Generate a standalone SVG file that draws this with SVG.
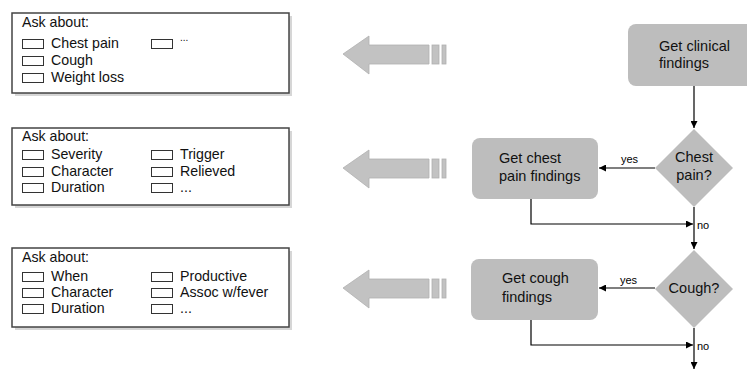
<svg xmlns="http://www.w3.org/2000/svg" width="747" height="372" viewBox="0 0 747 372">
  <defs>
    <marker id="ah" viewBox="0 0 8 8" refX="8" refY="4" markerWidth="7" markerHeight="7" markerUnits="userSpaceOnUse" orient="auto">
      <path d="M0,0 L8,4 L0,8 Z" fill="#000"/>
    </marker>
    <!-- wide block arrow pointing left, with two tail bars -->
    <g id="bigArrow">
      <path d="M0,0 L26,-18 L26,-9 L86,-9 L86,10 L26,10 L26,20 Z" class="barrow"/>
      <rect x="89" y="-9" width="7" height="19" class="barrow"/>
      <rect x="99" y="-9" width="4" height="19" class="barrow"/>
    </g>
  </defs>
  <style>
    text { font-family: "Liberation Sans", Arial, sans-serif; fill: #111; }
    .panel { fill: #fff; stroke: #444; stroke-width: 1.5; }
    .shadow { fill: #d6d6d6; }
    .cb { fill: #fff; stroke: #333; stroke-width: 1; }
    .lbl { font-size: 14.2px; }
    .dots { font-size: 10px; }
    .node { fill: #bdbdbd; }
    .ntxt { font-size: 14.5px; }
    .edge { fill: none; stroke: #000; stroke-width: 1.2; marker-end: url(#ah); }
    .etxt { font-size: 11px; fill: #000; }
    .barrow { fill: #c2c2c2; stroke: #b0b0b0; stroke-width: 0.8; }
  </style>
  <rect width="747" height="372" fill="#fff"/>

  <!-- checklist panels -->
  <g id="panel-general">
    <rect x="15" y="16" width="277" height="80" class="shadow"/>
    <rect x="12" y="13" width="277" height="80" class="panel"/>
    <text x="22" y="27" class="lbl">Ask about:</text>
    <rect x="22.5" y="39.5" width="21" height="9" class="cb"/>
    <text x="51" y="48" class="lbl">Chest pain</text>
    <rect x="22.5" y="56.5" width="21" height="9" class="cb"/>
    <text x="51" y="65" class="lbl">Cough</text>
    <rect x="22.5" y="73.5" width="21" height="9" class="cb"/>
    <text x="51" y="82" class="lbl">Weight loss</text>
    <rect x="151.5" y="39.5" width="21" height="9" class="cb"/>
    <text x="180" y="41" class="dots">...</text>
  </g>

  <g id="panel-chest">
    <rect x="15" y="131" width="277" height="77" class="shadow"/>
    <rect x="12" y="128" width="277" height="77" class="panel"/>
    <text x="22" y="141" class="lbl">Ask about:</text>
    <rect x="22.5" y="150.5" width="21" height="9" class="cb"/>
    <text x="51" y="159" class="lbl">Severity</text>
    <rect x="22.5" y="167.5" width="21" height="9" class="cb"/>
    <text x="51" y="176" class="lbl">Character</text>
    <rect x="22.5" y="183.5" width="21" height="9" class="cb"/>
    <text x="51" y="192" class="lbl">Duration</text>
    <rect x="151.5" y="150.5" width="21" height="9" class="cb"/>
    <text x="180" y="159" class="lbl">Trigger</text>
    <rect x="151.5" y="167.5" width="21" height="9" class="cb"/>
    <text x="180" y="176" class="lbl">Relieved</text>
    <rect x="151.5" y="183.5" width="21" height="9" class="cb"/>
    <text x="180" y="192" class="lbl">...</text>
  </g>

  <g id="panel-cough">
    <rect x="15" y="251" width="277" height="79" class="shadow"/>
    <rect x="12" y="248" width="277" height="79" class="panel"/>
    <text x="22" y="262" class="lbl">Ask about:</text>
    <rect x="22.5" y="272.5" width="21" height="9" class="cb"/>
    <text x="51" y="281" class="lbl">When</text>
    <rect x="22.5" y="288.5" width="21" height="9" class="cb"/>
    <text x="51" y="297" class="lbl">Character</text>
    <rect x="22.5" y="304.5" width="21" height="9" class="cb"/>
    <text x="51" y="313" class="lbl">Duration</text>
    <rect x="151.5" y="272.5" width="21" height="9" class="cb"/>
    <text x="180" y="281" class="lbl">Productive</text>
    <rect x="151.5" y="288.5" width="21" height="9" class="cb"/>
    <text x="180" y="297" class="lbl">Assoc w/fever</text>
    <rect x="151.5" y="304.5" width="21" height="9" class="cb"/>
    <text x="180" y="313" class="lbl">...</text>
  </g>

  <!-- block arrows -->
  <g id="arrow-1"><use href="#bigArrow" x="343" y="54"/></g>
  <g id="arrow-2"><use href="#bigArrow" x="343" y="168"/></g>
  <g id="arrow-3"><use href="#bigArrow" x="343" y="288"/></g>

  <!-- flowchart nodes -->
  <g id="get-clinical">
    <rect x="628" y="24" width="130" height="62" rx="8" class="node"/>
    <text x="659" y="51" class="ntxt">Get clinical</text>
    <text x="659" y="68" class="ntxt">findings</text>
  </g>

  <g id="chest-pain-q">
    <path d="M694,129 L733,168 L694,207 L655,168 Z" class="node"/>
    <text x="694" y="162" class="ntxt" text-anchor="middle">Chest</text>
    <text x="694" y="180" class="ntxt" text-anchor="middle">pain?</text>
  </g>

  <g id="chest-findings">
    <rect x="472" y="138" width="126" height="61" rx="8" class="node"/>
    <text x="499" y="163" class="ntxt">Get chest</text>
    <text x="499" y="181" class="ntxt">pain findings</text>
  </g>

  <g id="cough-q">
    <path d="M694,250 L733,289 L694,328 L655,289 Z" class="node"/>
    <text x="694" y="293" class="ntxt" text-anchor="middle">Cough?</text>
  </g>

  <g id="cough-findings">
    <rect x="471" y="259" width="127" height="61" rx="8" class="node"/>
    <text x="502" y="283" class="ntxt">Get cough</text>
    <text x="502" y="302" class="ntxt">findings</text>
  </g>

  <!-- connectors -->
  <g id="connectors">
    <path d="M694,86 L694,128" class="edge"/>
    <path d="M655,168 L599,168" class="edge"/>
    <path d="M694,207 L694,249" class="edge"/>
    <path d="M531,199 L531,224 L693,224" class="edge"/>
    <path d="M655,288 L599,288" class="edge"/>
    <path d="M531,320 L531,345 L693,345" class="edge"/>
    <path d="M694,328 L694,369" class="edge"/>
    <text x="621" y="163" class="etxt">yes</text>
    <text x="697" y="229" class="etxt">no</text>
    <text x="620" y="284" class="etxt">yes</text>
    <text x="697" y="350" class="etxt">no</text>
  </g>
</svg>
